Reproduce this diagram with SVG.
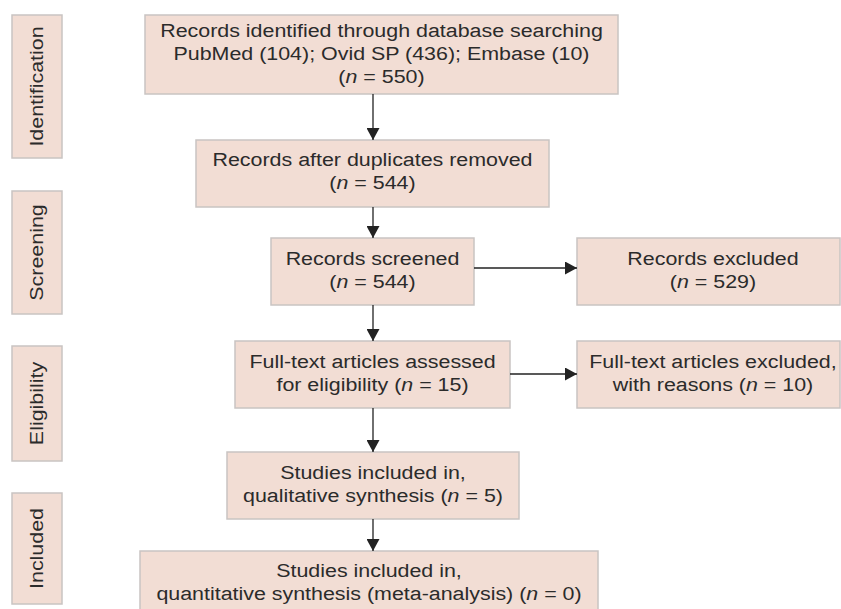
<svg xmlns="http://www.w3.org/2000/svg" width="841" height="609" viewBox="0 0 841 609">
<style>
.box{fill:#f2ddd4;stroke:#c9c4c2;stroke-width:1.5}
.t{font-family:"Liberation Sans",Arial,sans-serif;font-size:18px;fill:#2b2b2b;text-anchor:middle}
.c{stroke:#222;stroke-width:1.3;fill:none}
</style>
<defs>
<marker id="ah" markerWidth="13" markerHeight="13" refX="12" refY="6.5" orient="auto" markerUnits="userSpaceOnUse">
<path d="M0,0 L12,6.5 L0,13 Z" fill="#222"/>
</marker>
</defs>
<rect width="841" height="609" fill="#fff"/>
<g id="stage-identification"><rect class="box" x="12" y="15" width="50" height="143"/><text class="t" transform="translate(43,86.5) rotate(-90) scale(1.19,1)">Identification</text></g>
<g id="stage-screening"><rect class="box" x="12" y="191" width="50" height="123"/><text class="t" transform="translate(43,252.5) rotate(-90) scale(1.19,1)">Screening</text></g>
<g id="stage-eligibility"><rect class="box" x="12" y="346" width="50" height="115"/><text class="t" transform="translate(43,403.5) rotate(-90) scale(1.19,1)">Eligibility</text></g>
<g id="stage-included"><rect class="box" x="12" y="493" width="50" height="111"/><text class="t" transform="translate(43,548.5) rotate(-90) scale(1.19,1)">Included</text></g>

<g id="identified"><rect class="box" x="145" y="15" width="473" height="79"/>
<text class="t" transform="matrix(1.19 0 0 1 381.5 37)">Records identified through database searching</text>
<text class="t" transform="matrix(1.19 0 0 1 381.5 60)">PubMed (104); Ovid SP (436); Embase (10)</text>
<text class="t" transform="matrix(1.19 0 0 1 381.5 83)">(<tspan font-style="italic">n</tspan> = 550)</text></g>

<g id="deduplicated"><rect class="box" x="196" y="140" width="353" height="67"/>
<text class="t" transform="matrix(1.19 0 0 1 372.5 166)">Records after duplicates removed</text>
<text class="t" transform="matrix(1.19 0 0 1 372.5 189)">(<tspan font-style="italic">n</tspan> = 544)</text></g>

<g id="screened"><rect class="box" x="271" y="238" width="203" height="67"/>
<text class="t" transform="matrix(1.19 0 0 1 372.5 265)">Records screened</text>
<text class="t" transform="matrix(1.19 0 0 1 372.5 288)">(<tspan font-style="italic">n</tspan> = 544)</text></g>

<g id="excluded"><rect class="box" x="577" y="238" width="263" height="67"/>
<text class="t" transform="matrix(1.19 0 0 1 713 265)">Records excluded</text>
<text class="t" transform="matrix(1.19 0 0 1 713 288)">(<tspan font-style="italic">n</tspan> = 529)</text></g>

<g id="fulltext"><rect class="box" x="235" y="341" width="275" height="67"/>
<text class="t" transform="matrix(1.19 0 0 1 372.5 368)">Full-text articles assessed</text>
<text class="t" transform="matrix(1.19 0 0 1 372.5 391)">for eligibility (<tspan font-style="italic">n</tspan> = 15)</text></g>

<g id="fulltext-excluded"><rect class="box" x="577" y="341" width="263" height="67"/>
<text class="t" transform="matrix(1.19 0 0 1 713 368)">Full-text articles excluded,</text>
<text class="t" transform="matrix(1.19 0 0 1 713 391)">with reasons (<tspan font-style="italic">n</tspan> = 10)</text></g>

<g id="qualitative"><rect class="box" x="227" y="452" width="292" height="67"/>
<text class="t" transform="matrix(1.19 0 0 1 373 479)">Studies included in,</text>
<text class="t" transform="matrix(1.19 0 0 1 373 502)">qualitative synthesis (<tspan font-style="italic">n</tspan> = 5)</text></g>

<g id="quantitative"><rect class="box" x="140" y="551" width="458" height="66"/>
<text class="t" transform="matrix(1.19 0 0 1 369 577)">Studies included in,</text>
<text class="t" transform="matrix(1.19 0 0 1 369 600)">quantitative synthesis (meta-analysis) (<tspan font-style="italic">n</tspan> = 0)</text></g>

<g id="connectors">
<line class="c" x1="373" y1="94" x2="373" y2="140" marker-end="url(#ah)"/>
<line class="c" x1="373" y1="207" x2="373" y2="238" marker-end="url(#ah)"/>
<line class="c" x1="373" y1="305" x2="373" y2="341" marker-end="url(#ah)"/>
<line class="c" x1="373" y1="408" x2="373" y2="452" marker-end="url(#ah)"/>
<line class="c" x1="373" y1="519" x2="373" y2="551" marker-end="url(#ah)"/>
<line class="c" x1="474" y1="268" x2="577" y2="268" marker-end="url(#ah)"/>
<line class="c" x1="510" y1="374" x2="577" y2="374" marker-end="url(#ah)"/>
</g>
</svg>
